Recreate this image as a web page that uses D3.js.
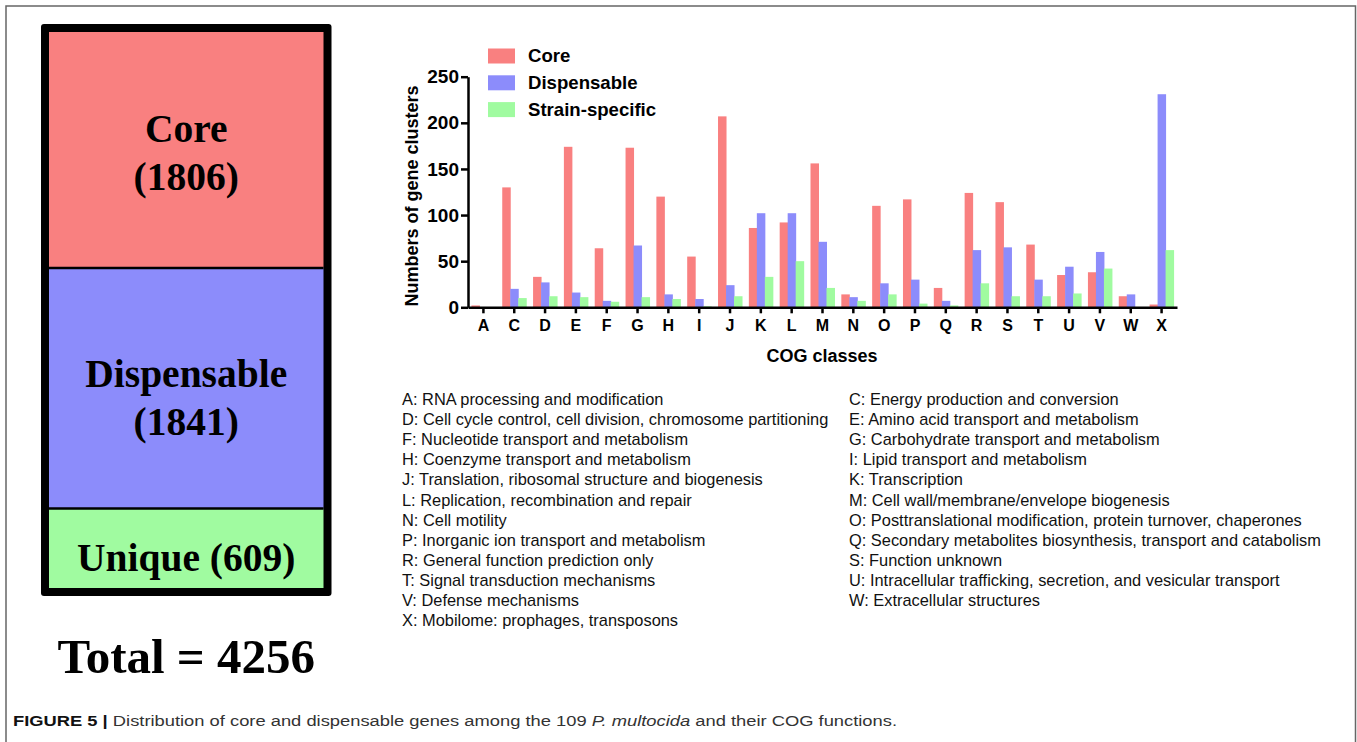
<!DOCTYPE html>
<html>
<head>
<meta charset="utf-8">
<script src="https://cdn.jsdelivr.net/npm/d3@7"></script>
<style>
  html, body { margin: 0; padding: 0; background: #fff; }
  svg { display: block; }
</style>
</head>
<body>
<svg id="chart" width="1357" height="742"></svg>
<script>
// ---------------- data ----------------
const categories = ["A","C","D","E","F","G","H","I","J","K","L","M","N","O","P","Q","R","S","T","U","V","W","X"];
const seriesNames = ["Core", "Dispensable", "Strain-specific"];
const coreValues        = [2,130,33,174,64,173,120,55,207,86,92,156,14,110,117,21,124,114,68,35,38,12,3];
const dispensableValues = [0,20,27,16,7,67,14,9,24,102,102,71,11,26,30,7,62,65,30,44,60,14,231];
const strainValues      = [0,10,12,11,6,11,9,1,12,33,50,21,7,14,4,2,26,12,12,15,42,0,62];
const yTicks = [0,50,100,150,200,250];

const panelNames  = ["Core", "Dispensable", "Unique"];
const panelValues = [1806, 1841, 609];
const totalValue  = 4256;

const cogLeft = [
  "A: RNA processing and modification",
  "D: Cell cycle control, cell division, chromosome partitioning",
  "F: Nucleotide transport and metabolism",
  "H: Coenzyme transport and metabolism",
  "J: Translation, ribosomal structure and biogenesis",
  "L: Replication, recombination and repair",
  "N: Cell motility",
  "P: Inorganic ion transport and metabolism",
  "R: General function prediction only",
  "T: Signal transduction mechanisms",
  "V: Defense mechanisms",
  "X: Mobilome: prophages, transposons"
];
const cogRight = [
  "C: Energy production and conversion",
  "E: Amino acid transport and metabolism",
  "G: Carbohydrate transport and metabolism",
  "I: Lipid transport and metabolism",
  "K: Transcription",
  "M: Cell wall/membrane/envelope biogenesis",
  "O: Posttranslational modification, protein turnover, chaperones",
  "Q: Secondary metabolites biosynthesis, transport and catabolism",
  "S: Function unknown",
  "U: Intracellular trafficking, secretion, and vesicular transport",
  "W: Extracellular structures"
];

// ---------------- styles ----------------
const colors = ["#F98080", "#8C8CFB", "#A0FBA0"];
const sans = "'Liberation Sans', Arial, Helvetica, sans-serif";
const serif = "'Liberation Serif', 'Times New Roman', serif";

const svg = d3.select("#chart");

// frame
svg.append("path")
  .attr("d", "M6,742 V6 H1355.5 V742")
  .attr("fill", "none").attr("stroke", "#666").attr("stroke-width", 1.5);

// ---------------- left stacked box ----------------
const box = { x0: 41, x1: 331.5, y0: 24, y1: 596, border: 8 };
const inner = { x0: box.x0 + box.border, x1: box.x1 - box.border,
                y0: box.y0 + box.border, y1: box.y1 - box.border };
const stackY = d3.scaleLinear().domain([0, d3.sum(panelValues)]).range([inner.y0, inner.y1]);
const cum = d3.cumsum(panelValues);
const panels = panelValues.map((v, i) => ({
  name: panelNames[i], value: v, start: i ? cum[i-1] : 0, end: cum[i], color: colors[i]
}));

svg.append("rect")
  .attr("x", box.x0).attr("y", box.y0)
  .attr("width", box.x1 - box.x0).attr("height", box.y1 - box.y0)
  .attr("rx", 3).attr("fill", "#000");

svg.selectAll("rect.panel").data(panels).join("rect")
  .attr("class", "panel")
  .attr("x", inner.x0).attr("width", inner.x1 - inner.x0)
  .attr("y", d => stackY(d.start)).attr("height", d => stackY(d.end) - stackY(d.start))
  .attr("fill", d => d.color);

// dividers
svg.selectAll("line.divider").data(panels.slice(1)).join("line")
  .attr("class", "divider")
  .attr("x1", inner.x0).attr("x2", inner.x1)
  .attr("y1", d => stackY(d.start)).attr("y2", d => stackY(d.start))
  .attr("stroke", "#000").attr("stroke-width", 2.5);

const cx = (box.x0 + box.x1) / 2;
const boxText = svg.append("g")
  .attr("font-family", serif).attr("font-weight", "bold")
  .attr("font-size", 39.5).attr("text-anchor", "middle").attr("fill", "#000");

// Core (two lines)
{
  const p = panels[0], m = (stackY(p.start) + stackY(p.end)) / 2;
  boxText.append("text").attr("x", cx).attr("y", m - 8).text(p.name);
  boxText.append("text").attr("x", cx).attr("y", m + 40).text(`(${p.value})`);
}
// Dispensable (two lines)
{
  const p = panels[1], m = (stackY(p.start) + stackY(p.end)) / 2;
  boxText.append("text").attr("x", cx).attr("y", m - 1).text(p.name);
  boxText.append("text").attr("x", cx).attr("y", m + 47).text(`(${p.value})`);
}
// Unique (one line)
{
  const p = panels[2], m = (stackY(p.start) + stackY(p.end)) / 2;
  boxText.append("text").attr("x", cx).attr("y", m + 23).text(`${p.name} (${p.value})`);
}

svg.append("text")
  .attr("x", cx).attr("y", 673)
  .attr("font-family", serif).attr("font-weight", "bold").attr("font-size", 49)
  .attr("text-anchor", "middle").text(`Total = ${totalValue}`);

// ---------------- grouped bar chart ----------------
const plot = { left: 468, right: 1177, top: 76.7, bottom: 307.3 };
const x0 = d3.scaleBand().domain(categories).range([plot.left, plot.right]);
const x1 = d3.scaleBand().domain(seriesNames).range([0, 24]);
const y = d3.scaleLinear().domain([0, 250]).range([plot.bottom, plot.top]);

const seriesValues = [coreValues, dispensableValues, strainValues];
const barData = [];
categories.forEach((c, i) => {
  seriesNames.forEach((s, j) => barData.push({ cat: c, series: s, value: seriesValues[j][i], color: colors[j] }));
});

svg.append("g").selectAll("rect").data(barData).join("rect")
  .attr("x", d => x0(d.cat) + x0.bandwidth() / 2 - 12 + x1(d.series))
  .attr("width", x1.bandwidth() + 0.5)
  .attr("y", d => y(d.value))
  .attr("height", d => y(0) - y(d.value))
  .attr("fill", d => d.color);

// Y axis
const yAxis = svg.append("g")
  .attr("transform", `translate(${plot.left},0)`)
  .call(d3.axisLeft(y).tickValues(yTicks).tickSize(7).tickSizeOuter(0).tickPadding(2));
yAxis.select(".domain").attr("stroke-width", 2.5);
yAxis.selectAll(".tick line").attr("stroke-width", 2.5);
yAxis.selectAll("text")
  .attr("font-family", sans).attr("font-weight", "bold").attr("font-size", 19).attr("fill", "#000");

// X axis
const xAxis = svg.append("g")
  .attr("transform", `translate(0,${plot.bottom})`)
  .call(d3.axisBottom(x0).tickSize(6).tickSizeOuter(0).tickPadding(6));
xAxis.select(".domain").attr("stroke-width", 2.5);
xAxis.selectAll(".tick line").attr("stroke-width", 2.5);
xAxis.selectAll("text")
  .attr("font-family", sans).attr("font-weight", "bold").attr("font-size", 16).attr("fill", "#000");

// axis titles
svg.append("text")
  .attr("transform", `translate(412,${(plot.top + plot.bottom) / 2 + 4}) rotate(-90)`)
  .attr("text-anchor", "middle").attr("dominant-baseline", "central")
  .attr("font-family", sans).attr("font-weight", "bold").attr("font-size", 18)
  .text("Numbers of gene clusters");

svg.append("text")
  .attr("x", 822).attr("y", 362)
  .attr("text-anchor", "middle")
  .attr("font-family", sans).attr("font-weight", "bold").attr("font-size", 18)
  .text("COG classes");

// legend
const legend = svg.append("g").attr("transform", "translate(488,48.5)");
const lg = legend.selectAll("g").data(seriesNames).join("g")
  .attr("transform", (d, i) => `translate(0,${i * 26.8})`);
lg.append("rect").attr("width", 27).attr("height", 15).attr("fill", (d, i) => colors[i]);
lg.append("text").attr("x", 40).attr("y", 13.5)
  .attr("font-family", sans).attr("font-weight", "bold").attr("font-size", 18.6)
  .text(d => d);

// COG descriptions
const desc = svg.append("g").attr("font-family", sans).attr("font-size", 16.4).attr("fill", "#111");
desc.selectAll("text.l").data(cogLeft).join("text").attr("class", "l")
  .attr("x", 402).attr("y", (d, i) => 405 + i * 20.1).text(d => d);
desc.selectAll("text.r").data(cogRight).join("text").attr("class", "r")
  .attr("x", 849).attr("y", (d, i) => 405 + i * 20.1).text(d => d);

// caption
const cap = svg.append("text")
  .attr("x", 13).attr("y", 726)
  .attr("font-family", sans).attr("font-size", 14).attr("fill", "#333")
  .attr("textLength", 884).attr("lengthAdjust", "spacingAndGlyphs");
cap.append("tspan").attr("font-weight", "bold").attr("fill", "#111").text("FIGURE 5 | ");
cap.append("tspan").text("Distribution of core and dispensable genes among the 109 ");
cap.append("tspan").attr("font-style", "italic").text("P. multocida");
cap.append("tspan").text(" and their COG functions.");
</script>
</body>
</html>
